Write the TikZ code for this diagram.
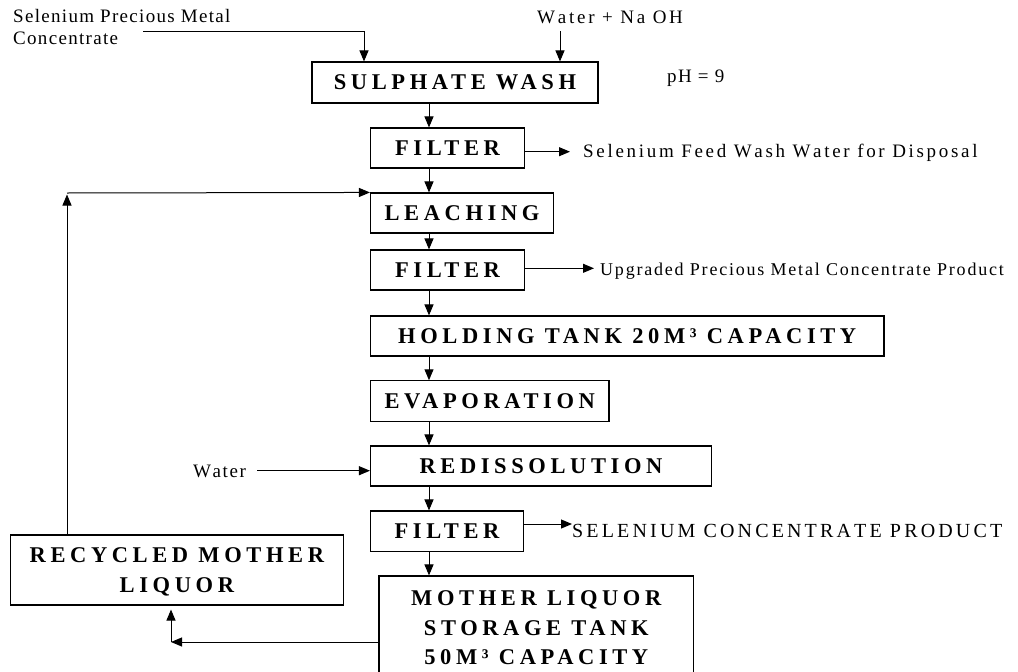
\documentclass[tikz,border=0pt]{standalone}
\usepackage{fontspec}
\setmainfont{Liberation Serif}[Kerning=Off]
\newfontfamily\bxf{Liberation Serif}[LetterSpace=20.5]
\newcommand\lsp[1]{\addfontfeature{LetterSpace=#1}}
\usetikzlibrary{arrows.meta}
\begin{document}
\begin{tikzpicture}[x=1pt,y=-1pt,
  box/.style={draw, line width=1.1pt, inner sep=0pt, align=center, text depth=0pt,
    font=\bxf\bfseries\fontsize{22.5}{29.5}\selectfont},
  arr/.style={line width=1pt, -{Triangle[length=11pt,width=9pt]}},
  lab/.style={inner sep=0pt, anchor=base west}]
\useasboundingbox (0,0) rectangle (1018,672);
\clip (0,0) rectangle (1018,672);

% process boxes
\node[box, minimum width=286pt, minimum height=41pt] (sw) at (455,82.5) {SULPHATE WASH};
\node[box, minimum width=154pt, minimum height=40pt] (f1) at (447.5,148) {FILTER};
\node[box, minimum width=183pt, minimum height=40pt] (le) at (462,213) {LEACHING};
\node[box, minimum width=154pt, minimum height=40pt] (f2) at (447.5,270) {FILTER};
\node[box, minimum width=513.5pt, minimum height=40pt] (ht) at (627.25,336) {HOLDING TANK 20M³ CAPACITY};
\node[box, minimum width=238.5pt, minimum height=41pt] (ev) at (489.75,401.3) {EVAPORATION};
\node[box, minimum width=341pt, minimum height=40pt] (rd) at (541,466) {REDISSOLUTION};
\node[box, minimum width=153pt, minimum height=40.5pt] (f3) at (447,531.25) {FILTER};
\node[box, minimum width=314.6pt, minimum height=104pt] (ml) at (536.3,628) {MOTHER LIQUOR\\STORAGE TANK\\50M³ CAPACITY};
\node[box, minimum width=332.3pt, minimum height=70pt] (rec) at (176.9,570) {RECYCLED MOTHER\\LIQUOR};

% labels
\node[lab, font={\fontsize{19}{22}\selectfont\lsp{6.9}}] (src1) at (13,22.7) {Selenium Precious Metal};
\node[lab, font={\fontsize{19}{22}\selectfont\lsp{6.9}}] (src2) at (13,44.3) {Concentrate};
\node[lab, font={\fontsize{19}{22}\selectfont\lsp{14.5}}] (wn) at (537,23.3) {Water + Na OH};
\node[lab, font={\fontsize{19}{22}\selectfont\lsp{7.4}}] (ph) at (667,82.7) {pH = 9};
\node[lab, font={\fontsize{19}{22}\selectfont\lsp{14.2}}] (l1) at (583,157.3) {Selenium Feed Wash Water for Disposal};
\node[lab, font={\fontsize{18}{21}\selectfont\lsp{9.9}}] (l2) at (600,275) {Upgraded Precious Metal Concentrate Product};
\node[lab, font={\fontsize{20}{23}\selectfont\lsp{15.8}}] (l3) at (572,537) {SELENIUM CONCENTRATE PRODUCT};
\node[lab, font={\fontsize{19}{22}\selectfont\lsp{8.3}}] (wt) at (193,477.3) {Water};

% coordinates
\coordinate (col) at (429,0);
\coordinate (s0) at (143,31.7);
\coordinate (sxa) at (364,0);
\coordinate (wa) at (560,31);
\coordinate (t1) at (570,151.7);
\coordinate (t2) at (594,268.3);
\coordinate (t3) at (572,524);
\coordinate (wt0) at (257,470.7);
\coordinate (fb) at (67,193);
\coordinate (bc) at (171,642);

% main chain
\draw[arr] (sw.south -| col) -- (f1.north -| col);
\draw[arr] (f1.south -| col) -- (le.north -| col);
\draw[arr] (le.south -| col) -- (f2.north -| col);
\draw[arr] (f2.south -| col) -- (ht.north -| col);
\draw[arr] (ht.south -| col) -- (ev.north -| col);
\draw[arr] (ev.south -| col) -- (rd.north -| col);
\draw[arr] (rd.south -| col) -- (f3.north -| col);
\draw[arr] (f3.south -| col) -- (ml.north -| col);

% inputs
\draw[arr] (s0) -| (sw.north -| sxa);
\draw[arr] (wa) -- (sw.north -| wa);
\draw[arr] (wt0) -- (rd.west |- wt0);

% outputs
\draw[arr] (f1.east |- t1) -- (t1);
\draw[arr] (f2.east |- t2) -- (t2);
\draw[arr] (f3.east |- t3) -- (t3);

% recycle loop
\draw[arr] (ml.west |- bc) -- (bc);
\draw[arr, shorten >=4pt] (bc) -- (rec.south -| bc);
\draw[arr, shorten >=1.5pt] (rec.north -| fb) -- (fb);
\draw[arr] (fb) -- (le.north west);
\end{tikzpicture}
\end{document}
